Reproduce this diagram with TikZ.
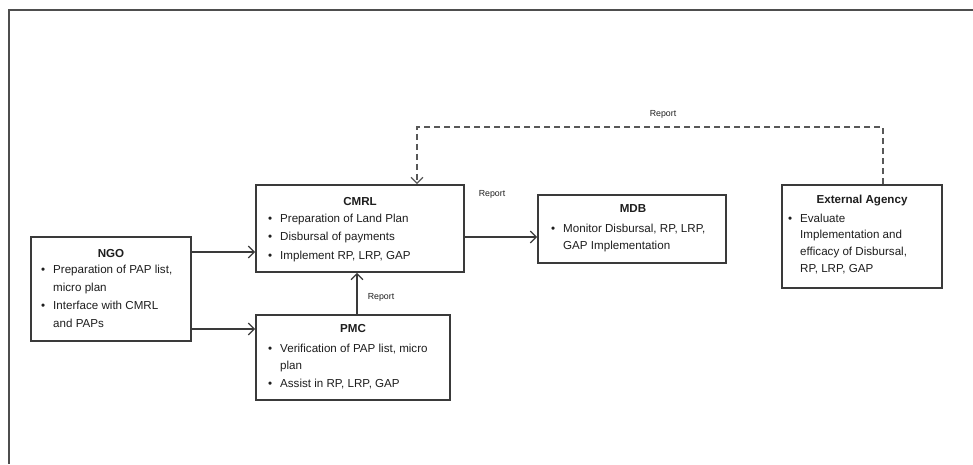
\documentclass[tikz,border=0pt]{standalone}
\usepackage{fontspec}
\setmainfont{Liberation Sans}
\usetikzlibrary{arrows.meta}
\definecolor{edge}{HTML}{3A3A3A}
\definecolor{ink}{HTML}{1E1E1E}
\newcommand{\bul}{\makebox[12pt][l]{\textbullet}}
\newcommand{\cont}{\hspace*{12pt}}
\newcommand{\fr}{\rule{0pt}{9pt}}
\tikzset{
  box/.style={draw=edge, line width=1.7pt, fill=white, inner sep=0pt},
  ttl/.style={font=\fontsize{11.6}{14}\selectfont\bfseries, text=ink, inner sep=0pt, anchor=base},
  body/.style={align=left, text=ink, inner sep=0pt, anchor=north west, font=\fontsize{11.6}{#1}\selectfont},
  lbl/.style={font=\fontsize{8.8}{10}\selectfont, text=ink, inner sep=0pt},
  conn/.style={draw=edge, line width=1.3pt, -{Straight Barb[length=6pt,width=12pt,line width=1.2pt]}},
  dconn/.style={draw=edge!85, line width=1.5pt, dash pattern=on 6pt off 4pt, -{Straight Barb[length=6pt,width=12pt,line width=1.2pt]}},
  frameline/.style={draw=edge!90, line width=2pt}
}
\begin{document}
\begin{tikzpicture}[x=1pt,y=-1pt]
\useasboundingbox (0,0) rectangle (973,464);
% frame
\coordinate (ftl) at (9,10);
\coordinate (ftr) at (973,10);
\coordinate (fbl) at (9,464);
\draw[frameline] (ftr) -- (ftl) -- (fbl);

% boxes
\node[box, minimum width=160pt, minimum height=104pt] (ngo) at (111,289) {};
\node[box, minimum width=208pt, minimum height=87pt] (cmrl) at (360,228.5) {};
\node[box, minimum width=194pt, minimum height=85pt] (pmc) at (353,357.5) {};
\node[box, minimum width=188pt, minimum height=68pt] (mdb) at (632,229) {};
\node[box, minimum width=160pt, minimum height=103pt] (ext) at (862,236.5) {};

% titles
\node[ttl] (ngoT) at (111,257) {NGO};
\node[ttl] (cmrlT) at (360,205) {CMRL};
\node[ttl] (pmcT) at (353,332) {PMC};
\node[ttl] (mdbT) at (633,212) {MDB};
\node[ttl] (extT) at (862,203) {External Agency};

% bodies
\node[body=18] (ngoB) at (41,264) {\fr\bul Preparation of PAP list,\\\cont micro plan\\\bul Interface with CMRL\\\cont and PAPs};
\node[body=18.5] (cmrlB) at (268,213) {\fr\bul Preparation of Land Plan\\\bul Disbursal of payments\\\bul Implement RP, LRP, GAP};
\node[body=17.5] (pmcB) at (268,343) {\fr\bul Verification of PAP list, micro\\\cont plan\\\bul Assist in RP, LRP, GAP};
\node[body=17] (mdbB) at (551,223) {\fr\bul Monitor Disbursal, RP, LRP,\\\cont GAP Implementation};
\node[body=16.7] (extB) at (788,213) {\fr\bul Evaluate\\\cont Implementation and\\\cont efficacy of Disbursal,\\\cont RP, LRP, GAP};

% connectors
\draw[conn] (ngo.east |- 0,252) -- (cmrl.west |- 0,252);
\draw[conn] (ngo.east |- 0,329) -- (pmc.west |- 0,329);
\draw[conn] (cmrl.east |- 0,237) -- (mdb.west |- 0,237);
\draw[conn] (pmc.north -| 357,0) -- (cmrl.south -| 357,0);
\coordinate (dR) at (883,127);
\coordinate (dL) at (417,127);
\draw[dconn] (ext.north -| dR) -- (dR) -- (dL) -- (cmrl.north -| dL);

% labels
\node[lbl] (rep1) at (663,114) {Report};
\node[lbl] (rep2) at (492,194) {Report};
\node[lbl] (rep3) at (381,297) {Report};
\end{tikzpicture}
\end{document}
